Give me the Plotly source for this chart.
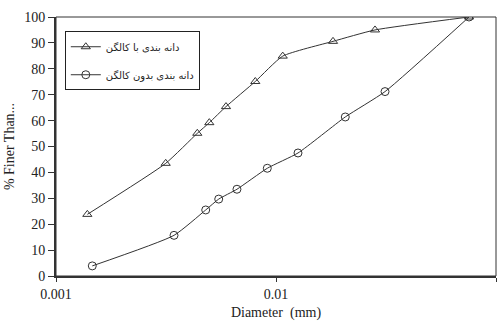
import plotly.graph_objects as go

# Data
d_with = [0.001388, 0.003152, 0.004388, 0.004976, 0.005925, 0.008051, 0.01073, 0.01816, 0.02818, 0.07541]
p_with = [23.8, 43.5, 55.1, 59.2, 65.4, 75.1, 84.9, 90.6, 95.0, 100]
d_without = [0.001462, 0.003439, 0.004792, 0.005490, 0.006646, 0.009129, 0.01259, 0.02065, 0.03130, 0.07541]
p_without = [3.9, 15.7, 25.5, 29.7, 33.5, 41.6, 47.5, 61.4, 71.2, 100]
name_with = "دانه بندی با کالگن"
name_without = "دانه بندی بدون کالگن"
x_tickvals = [0.001, 0.01, 0.1]
x_ticktext = ["0.001", "0.01", "0.1"]
y_tickvals = list(range(0, 101, 10))

line_col = "#333333"
font_fam = "Liberation Serif, Times New Roman, serif"

fig = go.Figure()
fig.add_trace(go.Scatter(
    x=d_with, y=p_with, name=name_with, mode="lines+markers",
    line=dict(color=line_col, width=1, shape="spline", smoothing=0.5),
    marker=dict(symbol="triangle-up-open", size=8, color=line_col, line=dict(width=1, color=line_col)),
    legendgroup="a",
))
fig.add_trace(go.Scatter(
    x=d_without, y=p_without, name=name_without, mode="lines+markers",
    line=dict(color=line_col, width=1, shape="spline", smoothing=0.5),
    marker=dict(symbol="circle-open", size=8, color=line_col, line=dict(width=1, color=line_col)),
    legendgroup="b",
))

fig.update_layout(
    width=503, height=326,
    margin=dict(l=56, r=7, t=17, b=50, autoexpand=False),
    paper_bgcolor="white", plot_bgcolor="white",
    font=dict(family=font_fam, size=14, color="#222222"),
    showlegend=True,
    legend=dict(
        x=0.02, y=0.945, xanchor="left", yanchor="top",
        bordercolor="#222222", borderwidth=1, bgcolor="white",
        font=dict(family="DejaVu Sans, Noto Sans, sans-serif", size=10, color="#222222"),
        tracegroupgap=9, itemwidth=30,
    ),
    xaxis=dict(
        type="log", range=[-3, -1],
        tickvals=x_tickvals, ticktext=x_ticktext,
        showgrid=False, zeroline=False, automargin=False,
        showline=True, linecolor=line_col, linewidth=2,
        ticks="outside", ticklen=4, tickcolor=line_col,
        title=dict(text="Diameter  (mm)", standoff=6, font=dict(size=14)),
    ),
    yaxis=dict(
        range=[0, 100], tickvals=y_tickvals,
        showgrid=False, zeroline=False, automargin=False,
        showline=True, linecolor=line_col, linewidth=2,
        ticks="outside", ticklen=6, tickcolor=line_col,
        title=dict(text="% Finer Than...", standoff=6, font=dict(size=14)),
    ),
    shapes=[dict(type="rect", xref="x domain", yref="y domain", x0=0, x1=1, y0=0, y1=1,
                 line=dict(color=line_col, width=1), layer="above")],
)

fig.write_html("out.html", config={"displayModeBar": False},
               post_script="document.body.style.margin='0';document.body.style.padding='0';")
